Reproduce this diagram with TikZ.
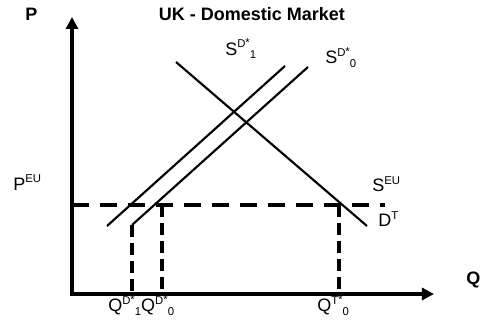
\documentclass[tikz,border=0pt]{standalone}
\usepackage{fontspec}
\setmainfont{Liberation Sans}
\usetikzlibrary{arrows.meta}

% raised and lowered small text
\newcommand{\suptext}[1]{\raisebox{5.8pt}{\fontsize{8.5}{8.5}\selectfont #1}}
\newcommand{\subtext}[1]{\raisebox{-2.3pt}{\fontsize{8.5}{8.5}\selectfont #1}}
\newcommand{\upstar}{\raisebox{0.8pt}{*}}
% letter with starred superscript and a trailing subscript
\newcommand{\starlab}[3]{#1\suptext{#2\upstar}\subtext{#3}}

\begin{document}
\begin{tikzpicture}[
    x=0.75pt, y=-0.75pt,
    axis/.style={line width=2.6pt, line join=miter, {Triangle[length=9pt,width=9pt]}-{Triangle[length=9pt,width=9pt]}},
    curve/.style={line width=1.6pt},
    level/.style={line width=3pt, dash pattern=on 12.5pt off 8.5pt},
    drop/.style={line width=3pt, dash pattern=on 9pt off 4.5pt},
    lab/.style={inner sep=0pt, anchor=base west, font=\fontsize{13.5}{15}\selectfont},
    boldlab/.style={lab, font=\bfseries\fontsize{13.5}{15}\selectfont}
]
    \useasboundingbox (0,0) rectangle (480,324);

    % axes
    \coordinate (origin) at (72,294);
    \coordinate (ptop) at (72,17);
    \coordinate (qend) at (434,294);
    \draw[axis] (ptop) -- (origin) -- (qend);

    % supply and demand lines
    \coordinate (s1low) at (107,226);
    \coordinate (s1high) at (285,66);
    \coordinate (s0low) at (132,225);
    \coordinate (s0high) at (308,67);
    \coordinate (dhigh) at (176,62);
    \coordinate (dlow) at (367,226);
    \draw[curve] (s1low) -- (s1high);
    \draw[curve] (s0low) -- (s0high);
    \draw[curve] (dhigh) -- (dlow);

    % world price line and quantity drops
    \coordinate (peu) at (72,205);
    \coordinate (seuend) at (385,205);
    \draw[level] (peu) -- (seuend);
    \coordinate (q1base) at (132,294);
    \coordinate (q0top) at (162,205);
    \coordinate (q0base) at (162,294);
    \coordinate (qttop) at (339,205);
    \coordinate (qtbase) at (339,294);
    \draw[drop] (s0low) -- (q1base);
    \draw[drop] (q0top) -- (q0base);
    \draw[drop] (qttop) -- (qtbase);

    % labels
    \node[boldlab] (plab) at (25,20.5) {P};
    \node[boldlab, anchor=base] (title) at (252,20.5) {UK - Domestic Market};
    \node[boldlab] (qlab) at (466,285) {Q};
    \node[lab] (sd1) at (225,55.5) {\starlab{S}{D}{1}};
    \node[lab] (sd0) at (325,64) {\starlab{S}{D}{0}};
    \node[lab] (peulab) at (13,190.5) {P\suptext{EU}};
    \node[lab] (seulab) at (372,192) {S\suptext{EU}};
    \node[lab] (dtlab) at (378,227) {D\suptext{T}};
    \node[lab] (qdlab) at (108,312) {\starlab{Q}{D}{1}\starlab{Q}{D}{0}};
    \node[lab] (qtlab) at (317,312) {\starlab{Q}{T}{0}};
\end{tikzpicture}
\end{document}
